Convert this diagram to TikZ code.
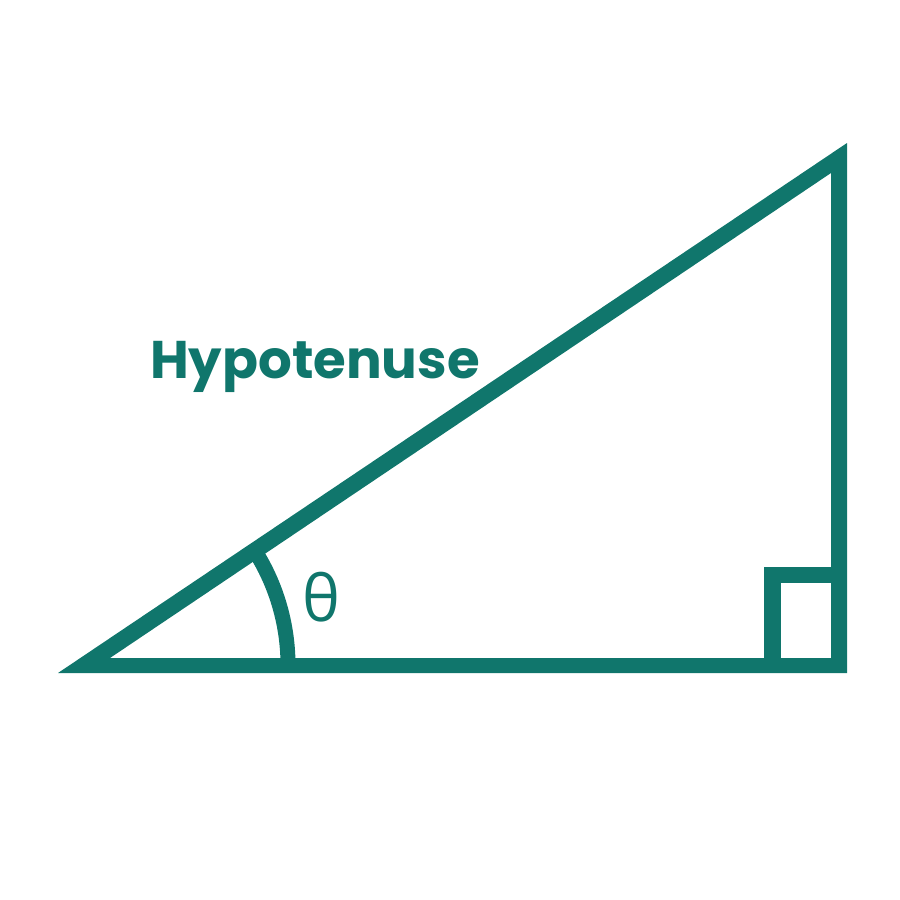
\documentclass[tikz,border=0pt]{standalone}
\usepackage{fontspec}
\setmainfont{Open Sans}
\newfontfamily\hypfont{Poppins}
\definecolor{teal1}{RGB}{16,118,108}
\begin{document}
\begin{tikzpicture}[x=1pt,y=-1pt,
  shape fill/.style={fill=teal1,draw=none},
  lbl/.style={text=teal1,inner sep=0pt,anchor=base}]
\useasboundingbox (0,0) rectangle (900,900);
% triangle as outer minus inner
\fill[shape fill,even odd rule] (58,673) -- (847,673) -- (847,143) -- cycle
  (110,658) -- (831,658) -- (831,173) -- cycle;
% right angle marker
\fill[shape fill] (764,567) rectangle (831,583);
\fill[shape fill] (764,567) rectangle (781,660);
% angle arc
\coordinate (c) at (75,665);
\draw[teal1,line width=15pt] (288,665) arc[start angle=0,end angle=-34,radius=213];
\node[lbl,font=\hypfont\bfseries\fontsize{53}{58}\selectfont] (hyp) at (315,378) {Hypotenuse};
\node[lbl,font=\fontsize{64}{70}\selectfont] (theta) at (321,621) {θ};
\end{tikzpicture}
\end{document}
